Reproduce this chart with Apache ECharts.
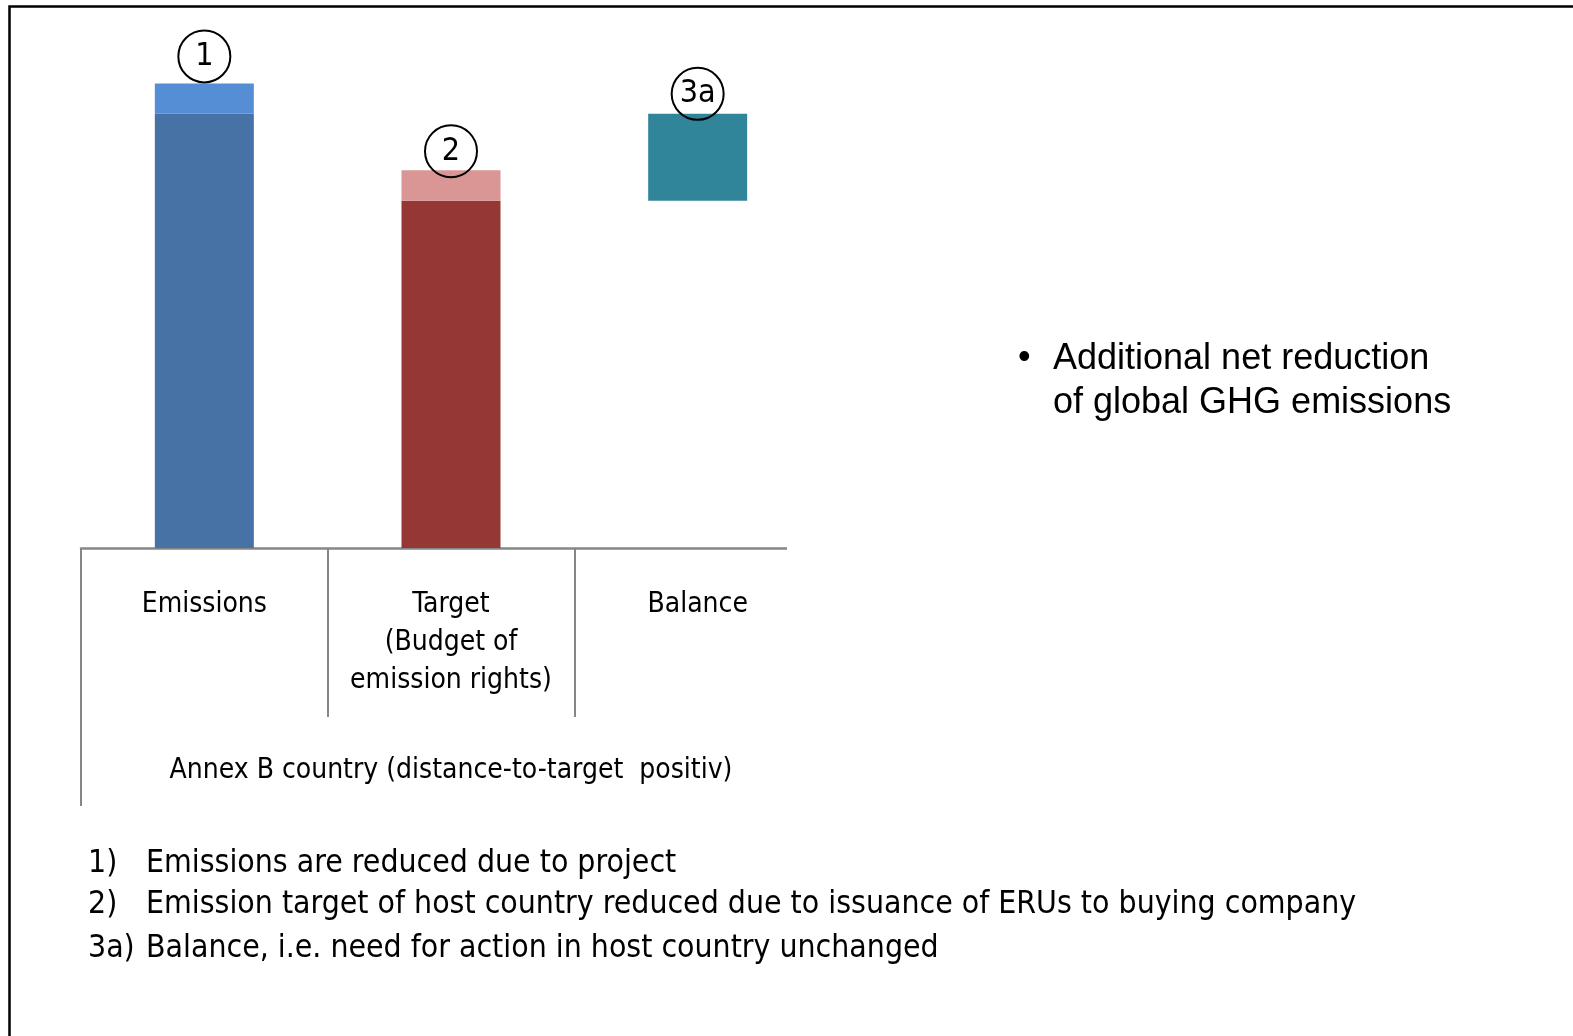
<!DOCTYPE html>
<html><head><meta charset="utf-8">
<script src="https://cdn.jsdelivr.net/npm/echarts@6/dist/echarts.min.js"></script>
<style>html,body{margin:0;padding:0;background:#fff}#c{width:1573px;height:1036px}</style>
</head><body><div id="c"></div>
<script>
// ---- data ----
const categories = ['Emissions', 'Target\n(Budget of\nemission rights)', 'Balance'];
const groupLabel = ['Annex B country (distance-to-target  positiv)'];
const remaining = [100, 80, '-'];        // emissions / target after the project
const projectEffect = [7, 7, '-'];       // part removed by the project
const balanceOffset = ['-', '-', 80];    // invisible base of the floating balance bar
const balance = ['-', '-', 20];          // balance = emissions - target
const markers = ['1', '2', '3a'];
const noteNums = ['1)', '2)', '3a)'];
const noteTexts = [
  'Emissions are reduced due to project',
  'Emission target of host country reduced due to issuance of ERUs to buying company',
  'Balance, i.e. need for action in host country unchanged'
];
const bulletLines = ['Additional net reduction', 'of global GHG emissions'];

// ---- styles ----
const darkColors = ['#4672A6', '#953735'];
const lightColors = ['#558ED5', '#D99694'];
const balanceColor = '#31859B';
const markerDistance = [1, -7, -6];
const calibriLike = "'Liberation Sans Narrow','DejaVu Sans Condensed','Open Sans',sans-serif";
const arialLike = "'Liberation Sans',Arial,sans-serif";

const markerLabel = (i) => ({
  show: true, position: 'top', distance: markerDistance[i],
  formatter: markers[i], width: 52, height: 52, lineHeight: 52,
  borderRadius: 27, borderWidth: 2, borderColor: '#000', align: 'center',
  fontSize: 32, color: '#000', fontFamily: calibriLike
});

const chart = echarts.init(document.getElementById('c'));
chart.setOption({
  animation: false,
  backgroundColor: '#fff',
  grid: { left: 81, right: 752, top: 27, bottom: 488, containLabel: false },
  xAxis: [{
    type: 'category', data: categories, position: 'bottom',
    axisLine: { show: true, lineStyle: { color: '#868686', width: 2.5 } },
    axisTick: { show: true, interval: 0, length: 169, lineStyle: { color: '#868686', width: 2 } },
    axisLabel: { margin: 38, fontSize: 28, lineHeight: 38, color: '#000', fontFamily: calibriLike, interval: 0 }
  }, {
    type: 'category', data: groupLabel, position: 'bottom', offset: 0,
    axisLine: { show: false },
    axisTick: { show: true, interval: 0, length: 258, lineStyle: { color: '#868686', width: 2 } },
    axisLabel: { margin: 205, fontSize: 28, lineHeight: 36, color: '#000', fontFamily: calibriLike }
  }],
  yAxis: { type: 'value', min: 0, max: 120, show: false, splitLine: { show: false } },
  series: [{
    type: 'bar', stack: 's', barWidth: 99,
    data: remaining.map((v, i) => ({ value: v, itemStyle: { color: darkColors[i] } }))
  }, {
    type: 'bar', stack: 's', barWidth: 99,
    data: projectEffect.map((v, i) => ({ value: v, itemStyle: { color: lightColors[i] }, label: markerLabel(i) }))
  }, {
    type: 'bar', stack: 's', barWidth: 99, silent: true,
    itemStyle: { color: 'rgba(0,0,0,0)' },
    data: balanceOffset
  }, {
    type: 'bar', stack: 's', barWidth: 99,
    itemStyle: { color: balanceColor },
    data: balance.map((v, i) => ({ value: v, label: v === '-' ? { show: false } : markerLabel(i) }))
  }],
  graphic: [
    // the chart area is cut off to the right of x≈786 in the original slide
    { type: 'rect', z: 100, shape: { x: 787, y: 538, width: 60, height: 280 }, style: { fill: '#fff' } },
    // slide frame
    { type: 'rect', z: 101, shape: { x: 9.5, y: 6.5, width: 1700, height: 1200 }, style: { fill: null, stroke: '#000', lineWidth: 2.5 } },
    // bullet
    { type: 'text', z: 101, left: 1018, top: 340, style: { text: '•', font: "36px " + arialLike, fill: '#000' } },
    { type: 'text', z: 101, left: 1053, top: 337, style: { text: bulletLines.join('\n'), font: "36px " + arialLike, lineHeight: 44, fill: '#000' } },
    // notes
    ...noteNums.map((n, i) => ({ type: 'text', z: 101, left: 88, top: 848 + [0, 41, 85][i], style: { text: n, font: "31.7px " + calibriLike, fill: '#000' } })),
    ...noteTexts.map((t, i) => ({ type: 'text', z: 101, left: 146, top: 848 + [0, 41, 85][i], style: { text: t, font: "31.7px " + calibriLike, fill: '#000' } }))
  ]
});
</script></body></html>
